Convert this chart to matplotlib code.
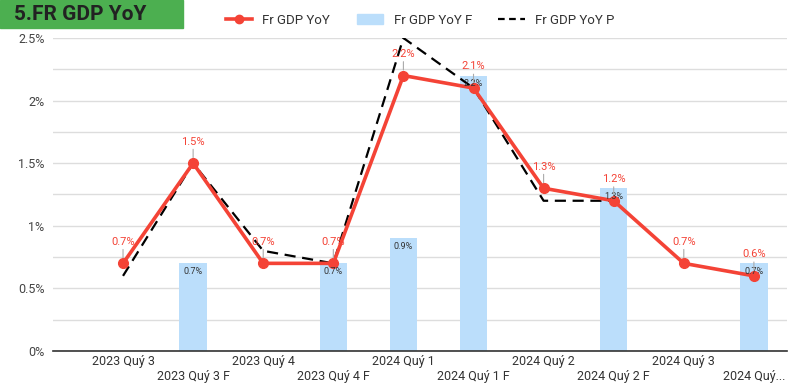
import numpy as np
import matplotlib
matplotlib.use("Agg")
import matplotlib.pyplot as plt
from matplotlib.lines import Line2D
from matplotlib.patches import Patch

plt.rcParams["font.family"] = ["Roboto", "DejaVu Sans"]

categories = ["2023 Quý 3", "2023 Quý 3 F", "2023 Quý 4", "2023 Quý 4 F",
              "2024 Quý 1", "2024 Quý 1 F", "2024 Quý 2", "2024 Quý 2 F",
              "2024 Quý 3", "2024 Quý..."]
gdp_yoy = [0.7, 1.5, 0.7, 0.7, 2.2, 2.1, 1.3, 1.2, 0.7, 0.6]
gdp_yoy_f = [np.nan, 0.7, np.nan, 0.7, 0.9, 2.2, np.nan, 1.3, np.nan, 0.7]
gdp_yoy_p = [0.6, 1.5, 0.8, 0.7, 2.5, 2.1, 1.2, 1.2, np.nan, np.nan]

red = "#f44336"
blue = "#bbdefb"

fig = plt.figure(figsize=(7.9, 3.9), dpi=100)
ax = fig.add_axes([0.067, 0.1, 0.929, 0.8026])

x = np.arange(len(categories))
f_vals = np.array(gdp_yoy_f)
mask = ~np.isnan(f_vals)
ax.bar(x[mask], f_vals[mask], width=0.39, color=blue, zorder=2)
for xi, v in zip(x[mask], f_vals[mask]):
    ax.text(xi, v - 0.03, f"{v:.1f}%", ha="center", va="top", fontsize=6.5,
            color="#333333", zorder=5)

ax.plot(x, gdp_yoy_p, color="black", lw=1.6, ls=(0, (5, 3)), zorder=3)
ax.plot(x, gdp_yoy, color=red, lw=2.6, marker="o", ms=7, zorder=4)
for xi, v in zip(x, gdp_yoy):
    ax.annotate(f"{v:.1f}%", xy=(xi, v), xytext=(0, 12), textcoords="offset points",
                ha="center", va="bottom", fontsize=8, color=red, zorder=6,
                arrowprops=dict(arrowstyle="-", color="#aaaaaa", lw=0.8,
                                shrinkA=0, shrinkB=4))

ax.set_xlim(-1.0, 9.47)
ax.set_ylim(0, 2.5)
ax.set_yticks(np.arange(0, 2.51, 0.5))
ax.set_yticklabels(["0%", "0.5%", "1%", "1.5%", "2%", "2.5%"])
ax.set_yticks(np.arange(0.25, 2.5, 0.5), minor=True)
ax.grid(axis="y", which="both", color="#dddddd", lw=1, zorder=0)
ax.tick_params(axis="y", which="both", length=0, labelsize=9, labelcolor="#444444", pad=6)

ax.set_xticks(x)
ax.set_xticklabels([c if i % 2 == 0 else "\n" + c for i, c in enumerate(categories)])
ax.tick_params(axis="x", length=0, labelsize=9, labelcolor="#333333", pad=3)

for s in ["top", "right", "left"]:
    ax.spines[s].set_visible(False)
ax.spines["bottom"].set_color("#333333")
ax.spines["bottom"].set_linewidth(1.2)

# title box
fig.patches.append(plt.Rectangle((0, 1 - 28 / 390), 183 / 790, 28 / 390,
                                 transform=fig.transFigure, color="#4caf50"))
fig.text(14 / 790, 1 - 14 / 390, "5.FR GDP YoY", ha="left", va="center",
         fontsize=15, fontweight="bold", color="#222222",
         family=["Liberation Sans Narrow", "Roboto"])

handles = [Line2D([0], [0], color=red, lw=2.6, marker="o", ms=6),
           Patch(color=blue),
           Line2D([0], [0], color="black", lw=1.6, ls=(0, (3, 2)))]
fig.legend(handles, ["Fr GDP YoY", "Fr GDP YoY F", "Fr GDP YoY P"], loc="center",
           bbox_to_anchor=(420 / 790, 1 - 20 / 390), ncol=3, frameon=False,
           fontsize=9.5, handlelength=2, columnspacing=2, labelcolor="#333333")

fig.savefig("out.png", dpi=100)
